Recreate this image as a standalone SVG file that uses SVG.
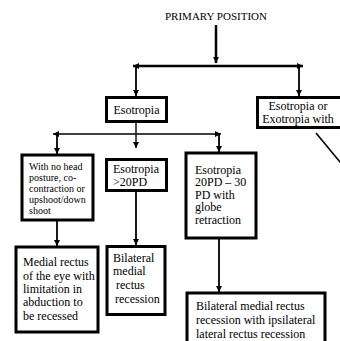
<svg xmlns="http://www.w3.org/2000/svg" width="340" height="341" viewBox="0 0 340 341">
<style>
.box{fill:#fff;stroke:#000;stroke-width:3}
.t{font-family:"Liberation Serif","Times New Roman",serif;font-size:12px;fill:#000}
.s{font-size:10px}
.c{stroke:#000;fill:none}
</style>
<defs>
<marker id="ah" markerUnits="userSpaceOnUse" markerWidth="7" markerHeight="7" refX="6" refY="3" orient="auto-start-reverse">
<path d="M0,0 L6,3 L0,6 z" fill="#000"/>
</marker>
</defs>
<rect width="340" height="341" fill="#fff"/>
<g id="connectors">
<line class="c" x1="216" y1="25" x2="216" y2="63" stroke-width="2.5" marker-end="url(#ah)"/>
<line class="c" x1="133" y1="66" x2="303" y2="66" stroke-width="2.5" marker-start="url(#ah)" marker-end="url(#ah)"/>
<line class="c" x1="136" y1="66" x2="136" y2="96" stroke-width="1.8" marker-end="url(#ah)"/>
<line class="c" x1="299" y1="66" x2="299" y2="96" stroke-width="1.8" marker-end="url(#ah)"/>
<line class="c" x1="53" y1="134" x2="221" y2="134" stroke-width="1.6" marker-start="url(#ah)" marker-end="url(#ah)"/>
<line class="c" x1="136" y1="122" x2="136" y2="148" stroke-width="1.4" marker-end="url(#ah)"/>
<line class="c" x1="57" y1="134" x2="57" y2="154" stroke-width="1.8" marker-end="url(#ah)"/>
<line class="c" x1="219" y1="134" x2="219" y2="152" stroke-width="1.8" marker-end="url(#ah)"/>
<line class="c" x1="57" y1="220" x2="57" y2="246" stroke-width="1.8" marker-end="url(#ah)"/>
<line class="c" x1="136" y1="191" x2="136" y2="245" stroke-width="1.8" marker-end="url(#ah)"/>
<line class="c" x1="219" y1="238" x2="219" y2="292" stroke-width="1.8" marker-end="url(#ah)"/>
<line class="c" x1="316" y1="133" x2="350" y2="174" stroke-width="1.6"/>
</g>
<g id="primary">
<text class="t" x="216" y="20" text-anchor="middle" style="font-size:11px">PRIMARY POSITION</text>
</g>
<g id="esotropia">
<rect class="box" x="106.5" y="97.5" width="60" height="24"/>
<text class="t" x="136.5" y="114" text-anchor="middle">Esotropia</text>
</g>
<g id="eso-or-exo">
<rect class="box" x="257.5" y="97.5" width="100" height="30"/>
<text class="t" x="298" y="110" text-anchor="middle">Esotropia or</text>
<text class="t" x="298" y="123" text-anchor="middle">Exotropia with</text>
</g>
<g id="no-head">
<rect class="box" x="22" y="155" width="71" height="65"/>
<text class="t s" x="29" y="170">With no head</text>
<text class="t s" x="29" y="181">posture, co-</text>
<text class="t s" x="29" y="192">contraction or</text>
<text class="t s" x="29" y="203">upshoot/down</text>
<text class="t s" x="29" y="213.5">shoot</text>
</g>
<g id="eso-20">
<rect class="box" x="106.5" y="159.5" width="60" height="31"/>
<text class="t" x="113" y="173">Esotropia</text>
<text class="t" x="113" y="186">&gt;20PD</text>
</g>
<g id="eso-20-30">
<rect class="box" x="186" y="153" width="70" height="85"/>
<text class="t" x="195" y="173.5">Esotropia</text>
<text class="t" x="195" y="186">20PD – 30</text>
<text class="t" x="195" y="198.5">PD with</text>
<text class="t" x="195" y="211">globe</text>
<text class="t" x="195" y="223.5">retraction</text>
</g>
<g id="medial-rectus">
<rect class="box" x="16" y="247" width="82" height="85"/>
<text class="t" x="23" y="266">Medial rectus</text>
<text class="t" x="23" y="279.5">of the eye with</text>
<text class="t" x="23" y="293">limitation in</text>
<text class="t" x="23" y="306">abduction to</text>
<text class="t" x="23" y="319.5">be recessed</text>
</g>
<g id="bilateral">
<rect class="box" x="107" y="246.5" width="58" height="68"/>
<text class="t" x="113" y="262">Bilateral</text>
<text class="t" x="113" y="275">medial</text>
<text class="t" x="116" y="289">rectus</text>
<text class="t" x="115" y="302.5">recession</text>
</g>
<g id="bilateral-ipsi">
<rect class="box" x="187" y="293" width="138" height="60"/>
<text class="t" x="196" y="310">Bilateral medial rectus</text>
<text class="t" x="196" y="324">recession with ipsilateral</text>
<text class="t" x="196" y="337.5">lateral rectus recession</text>
</g>
</svg>
